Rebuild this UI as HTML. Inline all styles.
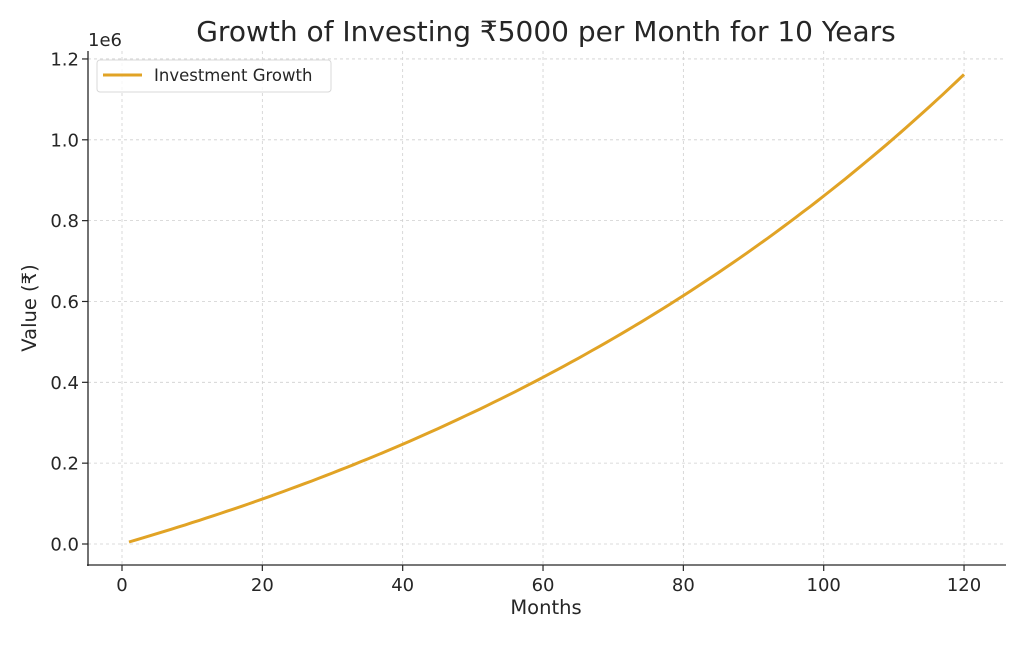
<!DOCTYPE html>
<html><head><meta charset="utf-8"><style>
body{margin:0;background:#fff}
text{font-family:"DejaVu Sans","Liberation Sans",sans-serif;fill:#262626}
</style></head><body>
<svg id="s" width="1024" height="640" viewBox="0 0 1024 640" xmlns="http://www.w3.org/2000/svg">
<text x="546" y="41" font-size="28" text-anchor="middle">Growth of Investing ₹5000 per Month for 10 Years</text>
<g id="grid" stroke="#cfcfcf" stroke-width="0.8" stroke-dasharray="3,3"></g>
<g id="ticks" font-size="18"></g>
<polyline id="line" fill="none" stroke="#E1A325" stroke-width="3"/>
<line x1="88" y1="51" x2="88" y2="566" stroke="#262626" stroke-width="1.3"/>
<line x1="87" y1="565" x2="1006" y2="565" stroke="#262626" stroke-width="1.3"/>
<text x="88" y="46" font-size="18">1e6</text>
<text x="546" y="614" font-size="19.5" text-anchor="middle">Months</text>
<text transform="translate(36,308) rotate(-90)" font-size="19.5" text-anchor="middle">Value (₹)</text>
<rect x="97" y="60" width="234" height="32" rx="3" fill="#fff" fill-opacity="0.8" stroke="#d8d8d8"/>
<line x1="103" y1="75" x2="142" y2="75" stroke="#E1A325" stroke-width="3"/>
<text x="154" y="81" font-size="16.5">Investment Growth</text>
</svg>
<script>
var ns="http://www.w3.org/2000/svg";
function X(m){return 122+7.017*m}
function Y(v){return 544-404.2*v/1e6}
var g=document.getElementById('grid'),t=document.getElementById('ticks');
function el(p,n,a,txt){var e=document.createElementNS(ns,n);for(var k in a)e.setAttribute(k,a[k]);if(txt)e.textContent=txt;p.appendChild(e);}
for(var m=0;m<=120;m+=20){var x=X(m);el(g,'line',{x1:x,y1:51,x2:x,y2:565});
el(t,'line',{x1:x,y1:565,x2:x,y2:571,stroke:'#262626','stroke-width':1.2});
el(t,'text',{x:x,y:591,'text-anchor':'middle'},String(m));}
for(var i=0;i<=6;i++){var v=i*0.2,y=Y(v*1e6);el(g,'line',{x1:88,y1:y,x2:1006,y2:y});
el(t,'line',{x1:82,y1:y,x2:88,y2:y,stroke:'#262626','stroke-width':1.2});
el(t,'text',{x:79,y:y+6.5,'text-anchor':'end'},v.toFixed(1));}
var pts=[];for(var n=1;n<=120;n++){var fv=5000*((Math.pow(1.01,n)-1)/0.01)*1.01;pts.push(X(n).toFixed(1)+','+Y(fv).toFixed(1));}
document.getElementById('line').setAttribute('points',pts.join(' '));
</script>
</body></html>
